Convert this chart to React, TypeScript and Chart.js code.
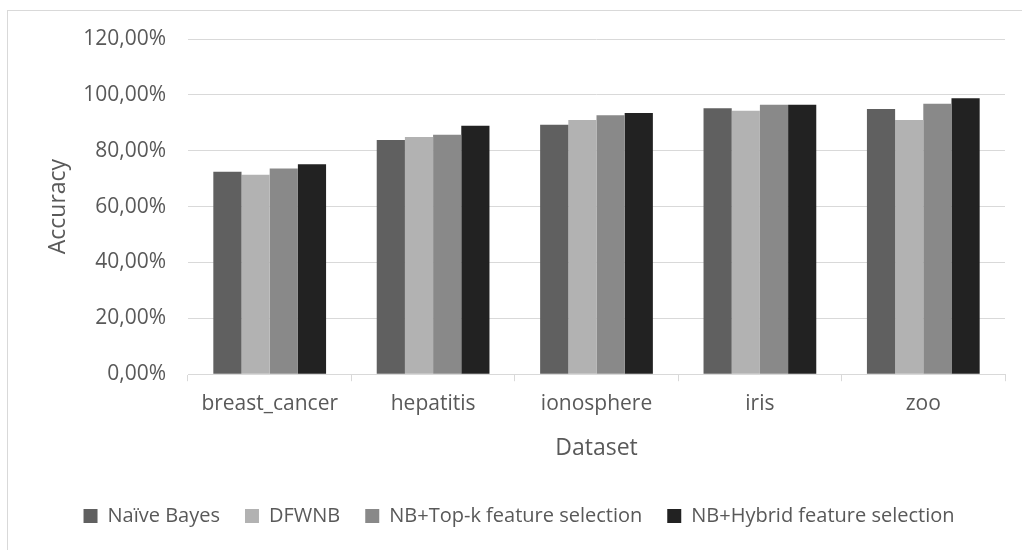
import React, { useEffect, useRef } from "react";
import { Chart, registerables } from "chart.js";

Chart.register(...registerables);

const categories = ["breast_cancer", "hepatitis", "ionosphere", "iris", "zoo"];
const seriesNames = [
  "Naïve Bayes",
  "DFWNB",
  "NB+Top-k feature selection",
  "NB+Hybrid feature selection",
];
const naiveBayes = [0.725, 0.838, 0.893, 0.952, 0.949];
const dfwnb = [0.714, 0.849, 0.91, 0.943, 0.91];
const topK = [0.736, 0.857, 0.927, 0.965, 0.968];
const hybrid = [0.752, 0.889, 0.935, 0.965, 0.988];
const seriesColors = ["#606060", "#b2b2b2", "#898989", "#222222"];
const yTicks = [0, 0.2, 0.4, 0.6, 0.8, 1.0, 1.2];

const FONT = "'Open Sans', sans-serif";
const TEXT = "#595959";
const GRID = "#d9d9d9";

export default function App() {
  const ref = useRef<HTMLCanvasElement | null>(null);

  useEffect(() => {
    if (!ref.current) return;
    const values = [naiveBayes, dfwnb, topK, hybrid];
    const chart = new Chart(ref.current, {
      type: "bar",
      data: {
        labels: categories,
        datasets: seriesNames.map((name, i) => ({
          label: name,
          data: values[i],
          backgroundColor: seriesColors[i],
          borderWidth: 0,
          categoryPercentage: 0.69,
          barPercentage: 1.0,
        })),
      },
      options: {
        animation: false,
        responsive: false,
        maintainAspectRatio: false,
        devicePixelRatio: 1,
        layout: { padding: { left: 25, right: 17, top: 28, bottom: 14 } },
        plugins: {
          legend: {
            position: "bottom",
            labels: {
              boxWidth: 14,
              boxHeight: 14,
              padding: 25,
              color: TEXT,
              font: { family: FONT, size: 20 },
            },
          },
          tooltip: { enabled: false },
        },
        scales: {
          x: {
            grid: {
              display: true,
              drawOnChartArea: false,
              drawTicks: true,
              tickLength: 7,
              color: GRID,
              offset: true,
            },
            border: { display: true, color: GRID },
            ticks: {
              color: TEXT,
              font: { family: FONT, size: 21 },
              padding: 10,
              maxRotation: 0,
            },
            title: {
              display: true,
              text: "Dataset",
              color: TEXT,
              font: { family: FONT, size: 23 },
              padding: { top: 8, bottom: 19 },
            },
          },
          y: {
            min: 0,
            max: 1.2,
            afterBuildTicks: (scale: any) => {
              scale.ticks = yTicks.map((v) => ({ value: v }));
            },
            afterFit: (scale: any) => {
              scale.width = 155;
            },
            grid: {
              color: GRID,
              drawTicks: true,
              tickLength: 12,
              tickColor: "rgba(0,0,0,0)",
            },
            border: { display: false },
            ticks: {
              color: TEXT,
              font: { family: FONT, size: 21 },
              padding: 10,
              callback: (v: any) =>
                (Number(v) * 100).toFixed(2).replace(".", ",") + "%",
            },
            title: {
              display: true,
              text: "Accuracy",
              color: TEXT,
              font: { family: FONT, size: 23 },
              padding: { top: 12, bottom: 0 },
            },
          },
        },
      },
    });
    return () => chart.destroy();
  }, []);

  return (
    <div
      style={{
        position: "absolute",
        left: 7,
        top: 10,
        width: 1014,
        height: 539,
        borderLeft: `1px solid ${GRID}`,
        borderTop: `1px solid ${GRID}`,
        background: "#fff",
        overflow: "hidden",
      }}
    >
      <canvas ref={ref} width={1014} height={539} style={{ display: "block" }} />
    </div>
  );
}
